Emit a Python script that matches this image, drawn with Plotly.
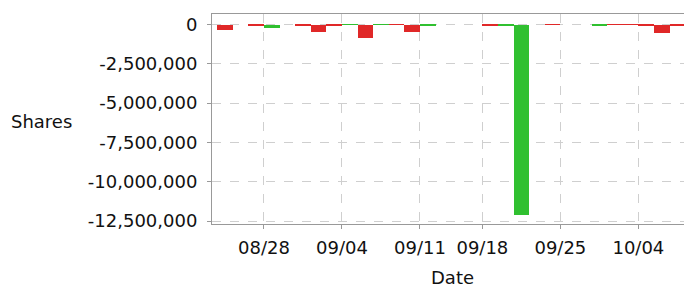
import plotly.graph_objects as go

# trading-day slots shown on the x axis
dates = ["08/23", "08/24", "08/25", "08/28", "08/29", "08/30", "08/31", "09/01",
         "09/04", "09/05", "09/06", "09/07", "09/08", "09/11", "09/12", "09/13",
         "09/14", "09/18", "09/19", "09/20", "09/21", "09/22", "09/25", "09/26",
         "09/27", "09/28", "09/29", "10/04", "10/05", "10/06", "10/09"]

# net shares sold (red) per slot
sold = [-350000, 0, -50000, 0, 0, -60000, -450000, -60000,
        0, -850000, 0, -20000, -460000, 0, 0, 0,
        0, -60000, 0, 0, 0, -30000, 0, 0,
        0, -30000, -30000, -80000, -550000, -80000, 0]

# net shares bought/other (green) per slot
bought = [0, 0, 0, -230000, 0, 0, 0, 0,
          -30000, 0, -30000, 0, 0, -40000, 0, 0,
          0, 0, -60000, -12100000, 0, 0, 0, 0,
          -120000, 0, 0, 0, 0, 0, 0]

x_tick_vals = ["08/28", "09/04", "09/11", "09/18", "09/25", "10/04"]
x_tick_text = ["08/28", "09/04", "09/11", "09/18", "09/25", "10/04"]

y_tick_vals = [0, -2500000, -5000000, -7500000, -10000000, -12500000]
y_tick_text = ["0", "-2,500,000", "-5,000,000", "-7,500,000", "-10,000,000", "-12,500,000"]

FONT = "DejaVu Sans"
TXT = "#111"

fig = go.Figure()
fig.add_trace(go.Bar(x=dates, y=sold, marker=dict(color="#e02828", line=dict(width=0)),
                     offset=0, width=1, name="Sold"))
fig.add_trace(go.Bar(x=dates, y=bought, marker=dict(color="#30c030", line=dict(width=0)),
                     offset=0, width=1, name="Bought"))

fig.update_layout(
    width=692, height=287,
    margin=dict(l=204, r=0, t=6, b=71),
    paper_bgcolor="white", plot_bgcolor="white",
    barmode="overlay", bargap=0,
    showlegend=False,
    font=dict(family=FONT, size=18, color=TXT),
    xaxis=dict(type="category", categoryorder="array", categoryarray=dates,
               range=[-0.33, 30.95],
               tickvals=x_tick_vals, ticktext=x_tick_text,
               showgrid=True, gridcolor="#cfcfcf", griddash="dash", gridwidth=1,
               showline=True, linecolor="#999", linewidth=1, mirror=True,
               ticks="outside", ticklen=4, tickcolor="#999",
               ticklabelstandoff=3,
               tickfont=dict(family=FONT, size=18, color=TXT)),
    yaxis=dict(range=[-12690000, 668000],
               tickvals=y_tick_vals, ticktext=y_tick_text,
               showgrid=True, gridcolor="#cfcfcf", griddash="dash", gridwidth=1,
               zeroline=False,
               showline=True, linecolor="#999", linewidth=1,
               ticks="outside", ticklen=4, tickcolor="#999",
               ticklabelstandoff=6,
               tickfont=dict(family=FONT, size=18, color=TXT)),
    annotations=[
        dict(text="Shares", xref="paper", yref="paper", x=-0.350, y=0.49,
             xanchor="center", yanchor="middle", showarrow=False,
             font=dict(family=FONT, size=18, color=TXT)),
        dict(text="Date", xref="paper", yref="paper", x=0.0, y=0,
             xanchor="center", yanchor="middle", showarrow=False,
             xshift=240, yshift=-53,
             font=dict(family=FONT, size=18, color=TXT)),
    ],
)

fig.write_html("out.html")
